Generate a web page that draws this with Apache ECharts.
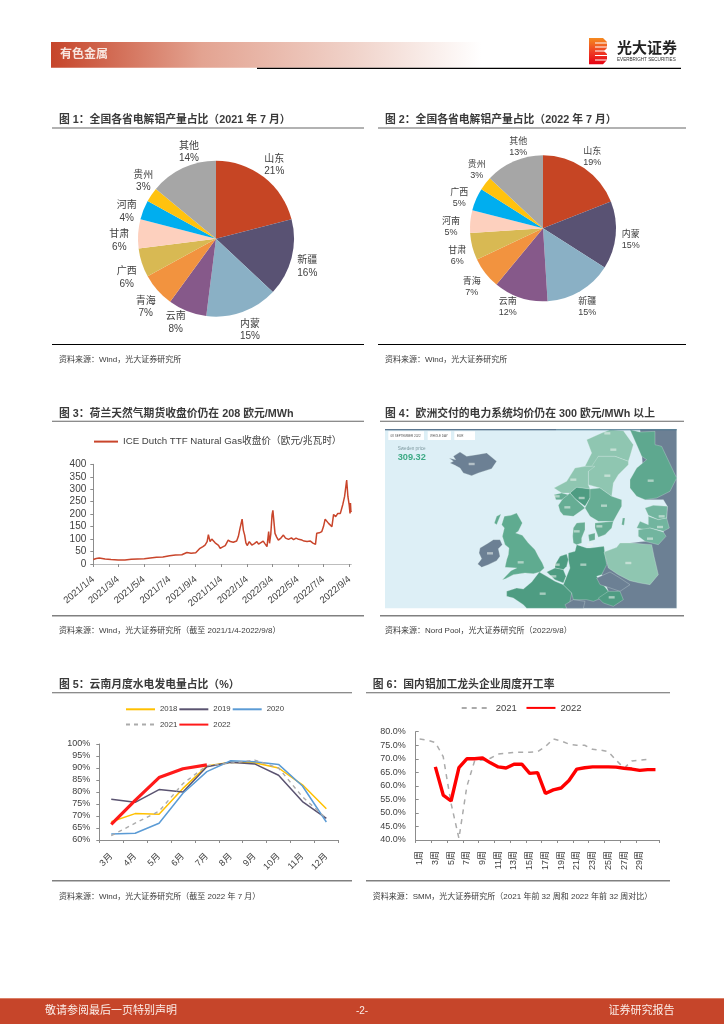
<!DOCTYPE html>
<html><head><meta charset="utf-8">
<style>html,body{margin:0;padding:0;background:#fff}#main{width:724px;height:1024px;filter:blur(0.42px)}</style>
<script src="https://cdn.jsdelivr.net/npm/echarts@6/dist/echarts.min.js"></script>
</head><body><div id="main"></div>
<script>
const FONT = "'Liberation Sans','Noto Sans CJK SC',sans-serif";
const INK = '#404040';

// Figure 1 / 2 : pies
const pie1Names = ['山东','新疆','内蒙','云南','青海','广西','甘肃','河南','贵州','其他'];
const pie1Values = [21,16,15,8,7,6,6,4,3,14];
const pie2Names = ['山东','内蒙','新疆','云南','青海','甘肃','河南','广西','贵州','其他'];
const pie2Values = [19,15,15,12,7,6,5,5,3,13];
const pieColors = ['#C64524','#595273','#8AB0C5','#86598A','#F2933F','#D8B953','#FDD0BE','#00AEEF','#FFC20E','#A6A6A6'];

// Figure 3 : TTF close, days since 2021/1/4
const ttfDays = [0,3,7,14,28,42,59,75,90,105,121,135,150,165,181,195,210,222,232,243,253,260,265,270,273,277,281,285,289,293,297,301,306,313,320,325,332,336,340,344,348,351,353,356,359,362,365,370,376,382,388,392,396,403,407,412,416,418,421,424,426,428,431,435,439,445,451,456,463,470,475,481,487,495,500,507,515,521,527,530,536,542,546,550,554,558,562,566,570,575,580,586,592,596,598,601,604,607,609,610,611,612];
const ttfValues = [18,26,22,24,20,18,16,16,19,20,21,24,27,28,33,36,37,46,43,45,63,70,76,90,118,90,100,96,85,87,75,63,68,74,96,90,87,95,92,110,143,150,180,135,116,85,74,90,76,82,90,80,76,92,82,70,130,83,120,197,215,223,123,108,96,104,116,104,99,105,98,104,99,96,92,90,92,84,79,123,125,130,150,180,172,163,158,150,199,190,203,203,240,270,297,337,270,237,203,245,212,208];
const ttfTicks = ['2021/1/4','2021/3/4','2021/5/4','2021/7/4','2021/9/4','2021/11/4','2022/1/4','2022/3/4','2022/5/4','2022/7/4','2022/9/4'];
const ttfName = 'ICE Dutch TTF Natural Gas收盘价（欧元/兆瓦时）';

// Figure 5 : Yunnan hydro share
const months = ['3月','4月','5月','6月','7月','8月','9月','10月','11月','12月'];
const hydro2018 = [67.6,71,70.7,81.5,90.8,92.4,92.2,90,83,73];
const hydro2019 = [77,75.7,81,80,90.5,92.4,91.7,87,76,69];
const hydro2020 = [62.5,62.8,67,79.5,88.5,93,92.6,91.5,82.5,67.5];
const hydro2021 = [61.8,67,72,83.5,91,92,93.3,90,78,69];
const hydro2022 = [66.5,76.5,86,89.7,91.3];

// Figure 6 : weekly operating rate
const weeks = ['1周','2周','3周','4周','5周','6周','7周','8周','9周','10周','11周','12周','13周','14周','15周','16周','17周','18周','19周','20周','21周','22周','23周','24周','25周','26周','27周','28周','29周','30周','31周'];
const rate2021 = [77.3,76.9,76,70.8,53.5,40.6,59.7,69.3,69.5,70.2,71.8,72,72.4,72.4,72.4,72.6,74.5,77.3,76.6,75.4,75,75,73.5,73.2,72.6,69.5,66.5,69.2,69.5,69.8,null];
const rate2022 = [null,null,67,56.6,54.4,66.7,70,70,70.3,68.5,67,66.6,68,68,64.6,64.9,57.2,58.5,59.2,62,66.2,66.7,67,67,67,66.9,66.5,66.2,65.7,66,66];

// Page text
const figureTitles = ['图 1：全国各省电解铝产量占比（2021 年 7 月）','图 2：全国各省电解铝产量占比（2022 年 7 月）','图 3：荷兰天然气期货收盘价仍在 208 欧元/MWh','图 4：欧洲交付的电力系统均价仍在 300 欧元/MWh 以上','图 5：云南月度水电发电量占比（%）','图 6：国内铝加工龙头企业周度开工率'];
const figureSources = ['资料来源：Wind，光大证券研究所','资料来源：Wind，光大证券研究所','资料来源：Wind，光大证券研究所（截至 2021/1/4-2022/9/8）','资料来源：Nord Pool，光大证券研究所（2022/9/8）','资料来源：Wind，光大证券研究所（截至 2022 年 7 月）','资料来源：SMM，光大证券研究所（2021 年前 32 周和 2022 年前 32 周对比）'];

// Layout: pie label centres (page pixels)
const pie1LabelAt = [[274.3,165],[307.3,266.7],[250,330],[175.7,322.7],[145.7,307.3],[126.7,277.7],[119.3,240.7],[126.7,211.7],[143.3,181],[189,152.3]];
const pie2LabelAt = [[592.3,156.7],[630.7,240],[587.3,307.3],[507.7,307.3],[471.7,286.7],[457.3,256],[451,227.3],[459.3,198.3],[476.7,170],[518.3,146.7]];

// Layout of the page blocks: title x/y, top rule, bottom rule, source y
const blocks = [
 {x:59,y:120,l:52,r:364,t:127.5,b:344,sy:360,bc:'#000',bw:1},
 {x:385,y:120,l:378,r:686,t:127.5,b:344,sy:360,bc:'#000',bw:1},
 {x:59,y:414,l:52,r:364,t:420.7,b:615,sy:630.7,bc:'#808080',bw:1.5},
 {x:385,y:414,l:380,r:684,t:420.7,b:615,sy:630.7,bc:'#808080',bw:1.5},
 {x:59,y:685,l:52,r:352,t:692.3,b:880,sy:896.7,bc:'#808080',bw:1.5},
 {x:372.7,y:685,l:366,r:670,t:692.3,b:880,sy:896.7,bc:'#808080',bw:1.5}
];

const g = [];
const rect=(x,y,w,h,fill,z)=>g.push({type:'rect',shape:{x,y,width:w,height:h},style:{fill},silent:true,z:z||1});
const text=(x,y,t,o)=>{o=o||{};const size=o.size||8,bold=o.bold?'bold ':'';
 g.push({type:'text',x,y,silent:true,z:5,style:{text:t,font:bold+size+'px '+FONT,fill:o.fill||'#333',verticalAlign:'middle',align:o.align||'left'}});};

// Header
rect(51,42,430,25.7,{type:'linear',x:0,y:0,x2:1,y2:0,colorStops:[{offset:0,color:'#C6452A'},{offset:.35,color:'#E3A391'},{offset:.7,color:'#F0D2C9'},{offset:1,color:'#FFFFFF'}]});
rect(257,67.8,424,1.2,'#000');
text(60,55,'有色金属',{size:12,bold:true,fill:'#F8E6DF'});
g.push({type:'polygon',shape:{points:[[589,38],[603,38],[607,42],[607,48],[604,51],[607,54],[607,60],[603,64.3],[589,64.3]]},silent:true,z:2,style:{fill:{type:'linear',x:0,y:0,x2:0,y2:1,colorStops:[{offset:0,color:'#F58A1F'},{offset:.55,color:'#EE3A24'},{offset:1,color:'#E60012'}]}}});
[42.5,46.5,50.5,55,59.5].forEach(y=>rect(595,y,13,1,'#fff',3));
text(617,48.5,'光大证券',{size:15,bold:true,fill:'#222'});
text(617,60.2,'EVERBRIGHT SECURITIES',{size:4.6,fill:'#333'});

// Footer
rect(0,998.3,724,25.7,'#C6452A');
rect(0,998.3,724,.8,'#DE8468',2);
text(45,1011,'敬请参阅最后一页特别声明',{size:11,fill:'#FBEDE8'});
text(362,1011,'-2-',{size:10,fill:'#FBEDE8',align:'center'});
text(608.5,1011,'证券研究报告',{size:11,fill:'#FBEDE8'});

// Figure frames
blocks.forEach((b,i)=>{
  text(b.x,b.y,figureTitles[i],{size:10.8,bold:true,fill:'#3A3A3A'});
  rect(b.l,b.t,b.r-b.l,1,'#666');
  rect(b.l,b.b,b.r-b.l,b.bw,b.bc);
  text(b.x,b.sy,figureSources[i],{size:8,fill:'#3A3A3A'});
});

// Figure 4 : background picture of the Nord Pool price map
const mapX=z=>530+z/3, mapY=z=>428+z/3;
const poly=(pts,fill,stroke)=>{const p=[];for(let i=0;i<pts.length;i+=2)p.push([mapX(pts[i]),mapY(pts[i+1])]);
 g.push({type:'polygon',shape:{points:p},silent:true,z:2,style:{fill,stroke:stroke||'rgba(225,240,235,.55)',lineWidth:.5}});};
rect(385,429.3,291.7,179,'#DDEFF6');
rect(385,429.3,171,1,'#2F4E6E',3);rect(556,429.3,120.7,1,'#46708A',3);
const GREY='#6C8094',DK='#4E9C82',MD='#66AD94',LT='#8FC6B1',FI='#5EA88F';
poly([330,4,440,4,440,541,100,541,125,495,235,490,215,440,225,380,300,345,345,340,400,312,410,270,412,235,400,215,345,215],GREY);
// Iceland, Ireland
poly([-243,90,-223,95,-230,85,-210,72,-190,85,-160,80,-130,75,-100,100,-115,122,-155,135,-175,143,-200,135,-210,120,-225,112,-240,105,-230,100],GREY);
poly([-150,360,-125,345,-110,335,-90,335,-83,350,-95,362,-90,385,-100,398,-125,410,-145,418,-157,408,-145,392,-153,375],GREY);
// Great Britain
poly([-77,265,-57,262,-40,255,-23,285,-35,310,-43,315,-23,322,-5,345,15,365,25,385,37,405,43,420,30,432,10,437,-15,435,-50,440,-73,452,-83,455,-57,428,-40,420,-75,418,-70,395,-65,380,-63,360,-75,350,-83,325,-77,300,-85,290],'#5FAB90');
poly([-100,265,-87,258,-100,290,-107,285],'#5FAB90');
// France, Germany, Benelux, Denmark
poly([-70,490,-40,480,-20,483,5,462,28,432,50,445,75,460,100,470,125,495,120,520,108,541,-10,541,-20,530,-50,510,-70,505],DK);
poly([115,375,135,370,140,350,170,360,180,360,222,355,225,380,230,410,215,440,200,445,235,490,215,510,190,520,170,515,130,515,125,495,100,470,110,445,120,420,115,395],DK);
poly([75,410,90,385,110,378,115,395,110,415,100,425,75,420],DK);
poly([50,432,75,420,100,425,108,445,100,465,75,455],DK);
poly([130,300,140,285,165,283,165,305,155,330,155,345,140,350,130,345,128,325],MD);
poly([175,320,195,315,195,335,178,340],MD);
// Norway, Sweden, Finland
poly([170,35,215,15,240,5,280,8,310,50,300,85,295,100,255,85,205,85,195,115,165,115,185,75],LT);
poly([205,85,255,85,295,100,295,110,265,140,250,165,245,205,210,180,175,170,175,130],LT);
poly([72,180,110,160,135,120,165,115,195,115,175,130,175,170,180,183,140,178,120,195,95,195],LT);
poly([120,195,140,178,180,183,180,210,165,235,135,212],DK);
poly([85,232,100,210,120,195,135,212,165,240,130,265,100,262,90,250],MD);
poly([72,200,95,195,115,200,95,215,78,215],MD);
poly([180,183,210,180,245,205,275,215,275,235,250,280,205,280,180,265,165,240,180,210],MD);
poly([195,285,250,280,245,300,225,320,205,328,195,300],MD);
poly([278,270,285,270,282,292,275,290],MD);
poly([300,5,330,12,375,10,375,50,395,55,440,150,420,190,380,210,345,215,320,205,300,180,300,155,320,120,350,95,335,85,320,50],FI);
// Baltics, Poland, Central Europe
poly([345,240,370,232,412,235,410,270,385,275,355,262],'#72B59F');
poly([320,300,330,280,355,290,355,265,385,275,410,270,418,300,400,310,360,300,345,305],'#72B59F');
poly([325,305,360,300,400,312,408,325,385,350,345,340,325,325],'#72B59F');
poly([222,372,260,358,270,345,305,345,365,350,372,385,385,440,360,470,330,465,300,458,265,440,235,420],LT);
poly([200,450,240,432,270,450,300,470,270,490,235,478,210,470],GREY);
poly([205,510,235,490,270,490,280,515,250,535,220,525],DK);
poly([105,530,130,515,165,520,160,541,110,541],GREY);
// Map controls and zone price tags
rect(388.3,431.3,35.7,8.7,'#fff',3);rect(427.7,431.3,23.3,8.7,'#fff',3);rect(454.3,431.3,20.7,8.7,'#fff',3);
text(390.5,435.7,'08 SEPTEMBER 2022',{size:3,fill:'#555'});
text(430,435.7,'WHOLE DAY',{size:3,fill:'#555'});
text(457,435.7,'EUR',{size:3,fill:'#555'});
text(397.7,449,'Sweden price',{size:4.6,fill:'#7F9AA0'});
text(397.7,457,'309.32',{size:9.2,bold:true,fill:'#3DAA85'});
const tags=[[-175,108],[-120,376],[-28,403],[38,497],[160,410],[245,508],[295,405],[250,65],[232,143],[130,155],[362,158],[155,210],[112,238],[222,233],[208,295],[140,310],[80,205],[180,350],[80,410],[70,445],[395,265],[390,297],[360,332],[232,16]];
tags.forEach(t=>{rect(mapX(t[0])-3,mapY(t[1])-1.2,6,2.4,'rgba(238,244,240,.55)',3);});

const pieSeries=(names,values,cx,cy,r,fs,lh,at)=>({
   type:'pie',center:[cx,cy],radius:r,startAngle:90,silent:true,avoidLabelOverlap:false,emphasis:{disabled:true},
   data:names.map((n,i)=>({name:n,value:values[i],itemStyle:{color:pieColors[i]}})),
   labelLine:{show:false},
   label:{show:true,position:'outside',formatter:'{b}\n{c}%',color:INK,fontSize:fs,lineHeight:lh,fontFamily:FONT},
   labelLayout:p=>({x:at[p.dataIndex][0],y:at[p.dataIndex][1],align:'center',verticalAlign:'middle'})
});
const lineBase=(xi,yi)=>({type:'line',xAxisIndex:xi,yAxisIndex:yi,symbol:'none',silent:true,animation:false,connectNulls:false});
const axLine={show:true,lineStyle:{color:'#8C8C8C',width:1}};
const axTick={show:true,length:3,lineStyle:{color:'#8C8C8C',width:1}};
const legendBase={padding:0,itemHeight:14,selectedMode:false,itemStyle:{opacity:0}};

const dateOf=s=>{const p=s.split('/').map(Number);return Date.UTC(p[0],p[1]-1,p[2]);};
const ttfTickDays=ttfTicks.map(s=>Math.round((dateOf(s)-dateOf(ttfTicks[0]))/86400000));

const option={
 animation:false,
 textStyle:{fontFamily:FONT},
 graphic:{elements:g},
 legend:[
  Object.assign({},legendBase,{data:[ttfName],left:93,top:436,itemWidth:24,itemGap:4,textStyle:{fontSize:9.7,color:INK,fontFamily:FONT}}),
  Object.assign({},legendBase,{data:['2018','2019','2020'],left:125,top:703.7,itemWidth:29,itemGap:1,textStyle:{fontSize:7.8,color:INK,fontFamily:FONT}}),
  Object.assign({},legendBase,{data:['2021','2022'],left:125,top:719,itemWidth:29,itemGap:1,textStyle:{fontSize:7.8,color:INK,fontFamily:FONT}}),
  Object.assign({},legendBase,{data:['2021 ','2022 '],left:460.7,top:702.3,itemWidth:29,itemGap:6,textStyle:{fontSize:9.5,color:INK,fontFamily:FONT}})
 ],
 grid:[
  {left:93.3,top:464.3,width:258,height:99.7},
  {left:99.3,top:744,width:239,height:96},
  {left:415.7,top:731.7,width:243.7,height:108.3}
 ],
 xAxis:[
  {gridIndex:0,type:'value',min:0,max:612,axisLine:{show:true,lineStyle:{color:'#BDBDBD'}},splitLine:{show:false},
   axisTick:Object.assign({},axTick,{customValues:ttfTickDays}),
   axisLabel:{customValues:ttfTickDays,formatter:v=>ttfTicks[ttfTickDays.indexOf(v)],rotate:40,fontSize:9.5,color:INK,margin:14,fontFamily:FONT}},
  {gridIndex:1,type:'category',data:months,boundaryGap:true,axisLine:axLine,axisTick:axTick,
   axisLabel:{interval:0,rotate:45,fontSize:9,color:INK,margin:15,fontFamily:FONT}},
  {gridIndex:2,type:'category',data:weeks,boundaryGap:true,axisLine:axLine,axisTick:axTick,
   axisLabel:{interval:i=>i%2===0&&i<30,rotate:90,fontSize:9,color:INK,margin:11,fontFamily:FONT}}
 ],
 yAxis:[
  {gridIndex:0,type:'value',min:0,max:400,interval:50,axisLine:axLine,axisTick:axTick,splitLine:{show:false},
   axisLabel:{fontSize:10,color:INK,margin:7,fontFamily:FONT}},
  {gridIndex:1,type:'value',min:60,max:100,interval:5,axisLine:axLine,axisTick:axTick,splitLine:{show:false},
   axisLabel:{fontSize:9,color:INK,margin:9,formatter:'{value}%',fontFamily:FONT}},
  {gridIndex:2,type:'value',min:40,max:80,interval:5,axisLine:axLine,axisTick:Object.assign({},axTick,{inside:true}),splitLine:{show:false},
   axisLabel:{fontSize:9,color:INK,margin:10,formatter:v=>v.toFixed(1)+'%',fontFamily:FONT}}
 ],
 series:[
  pieSeries(pie1Names,pie1Values,216,238.7,78,10,12.5,pie1LabelAt),
  pieSeries(pie2Names,pie2Values,543,228.3,73,9,11.2,pie2LabelAt),
  Object.assign(lineBase(0,0),{name:ttfName,data:ttfDays.map((d,i)=>[d,ttfValues[i]]),lineStyle:{color:'#C9452B',width:1.5},itemStyle:{color:'#C9452B'}}),
  Object.assign(lineBase(1,1),{name:'2018',data:hydro2018,lineStyle:{color:'#FFC000',width:1.5},itemStyle:{color:'#FFC000'}}),
  Object.assign(lineBase(1,1),{name:'2019',data:hydro2019,lineStyle:{color:'#5A5370',width:1.5},itemStyle:{color:'#5A5370'}}),
  Object.assign(lineBase(1,1),{name:'2020',data:hydro2020,lineStyle:{color:'#5B9BD5',width:1.5},itemStyle:{color:'#5B9BD5'}}),
  Object.assign(lineBase(1,1),{name:'2021',data:hydro2021,lineStyle:{color:'#ABABAB',width:1.4,type:[4,4]},itemStyle:{color:'#ABABAB'}}),
  Object.assign(lineBase(1,1),{name:'2022',data:hydro2022,lineStyle:{color:'#FF1A1A',width:3.2},itemStyle:{color:'#FF1A1A'}}),
  Object.assign(lineBase(2,2),{name:'2021 ',data:rate2021,lineStyle:{color:'#ABABAB',width:1.5,type:[5,5]},itemStyle:{color:'#ABABAB'}}),
  Object.assign(lineBase(2,2),{name:'2022 ',data:rate2022,lineStyle:{color:'#FF0000',width:3.4},itemStyle:{color:'#FF0000'}})
 ]
};
const chart=echarts.init(document.getElementById('main'),null,{renderer:'canvas',width:724,height:1024});
chart.setOption(option);
</script></body></html>
